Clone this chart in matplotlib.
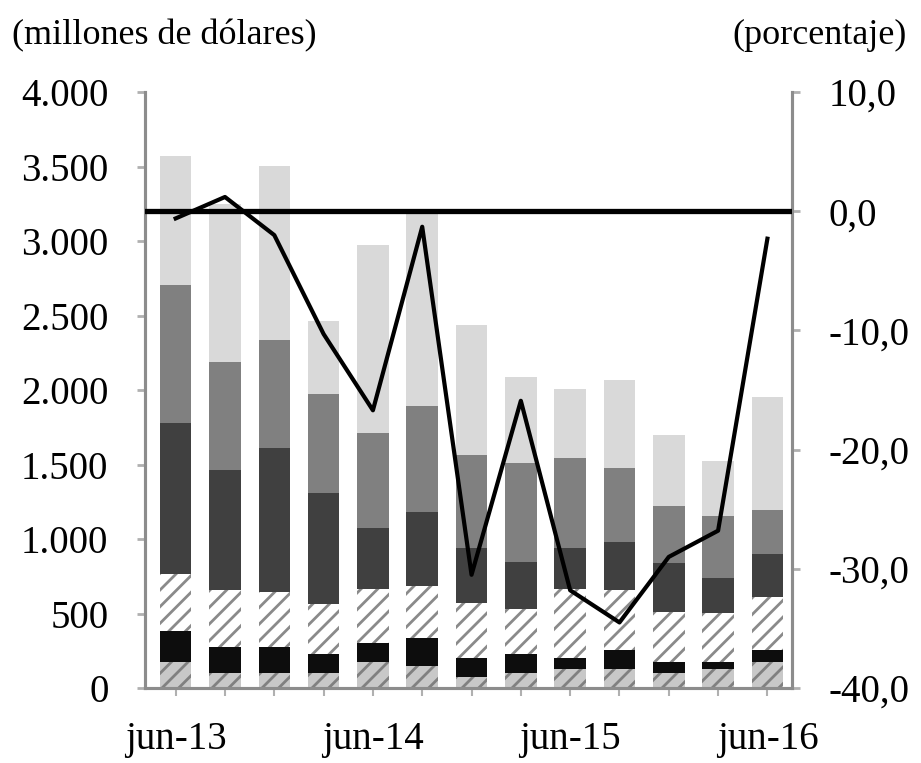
import numpy as np
import matplotlib
matplotlib.use("Agg")
import matplotlib.pyplot as plt

plt.rcParams['font.family'] = ['Liberation Serif', 'DejaVu Serif']
plt.rcParams['hatch.linewidth'] = 2.0

periods = ["jun-13", "sep-13", "dic-13", "mar-14", "jun-14", "sep-14", "dic-14",
           "mar-15", "jun-15", "sep-15", "dic-15", "mar-16", "jun-16"]
tick_labels = ["jun-13", "", "", "", "jun-14", "", "", "", "jun-15", "", "", "", "jun-16"]

# stacked components (millones de dólares), bottom to top
serie_1 = [174, 100, 100, 100, 174, 148, 74, 100, 128, 128, 100, 128, 174]   # hatched gray
serie_2 = [209, 175, 175, 128, 128, 188, 127, 128, 73, 127, 74, 46, 81]      # black
serie_3 = [382, 383, 369, 336, 362, 348, 369, 302, 464, 403, 336, 329, 356]  # hatched white
serie_4 = [1013, 805, 967, 745, 410, 497, 370, 316, 275, 322, 329, 235, 288] # dark gray
serie_5 = [927, 725, 725, 664, 637, 712, 624, 664, 604, 497, 382, 416, 296]  # medium gray
serie_6 = [865, 1062, 1167, 490, 1262, 1307, 872, 577, 463, 590, 477, 369, 758]  # light gray

# variation (porcentaje), right axis
variacion = [-0.6, 1.2, -2.0, -10.3, -16.7, -1.3, -30.5, -15.9, -31.8, -34.5, -29.0, -26.8, -2.3]

left_ticks = [0, 500, 1000, 1500, 2000, 2500, 3000, 3500, 4000]
left_labels = ["0", "500", "1.000", "1.500", "2.000", "2.500", "3.000", "3.500", "4.000"]
right_ticks = [-40, -30, -20, -10, 0, 10]
right_labels = ["-40,0", "-30,0", "-20,0", "-10,0", "0,0", "10,0"]

fig = plt.figure(figsize=(9.21, 7.63), dpi=100)
ax = fig.add_axes([0.157, 0.0983, 0.703, 0.781])
x = np.arange(len(periods))
w = 0.64

series = [serie_1, serie_2, serie_3, serie_4, serie_5, serie_6]
styles = [
    dict(color='#c8c8c8', edgecolor='#808080', hatch='//', linewidth=0),
    dict(color='#0d0d0d', linewidth=0),
    dict(color='#ffffff', edgecolor='#8a8a8a', hatch='//', linewidth=0),
    dict(color='#404040', linewidth=0),
    dict(color='#808080', linewidth=0),
    dict(color='#d9d9d9', linewidth=0),
]
bottom = np.zeros(len(periods))
for s, st in zip(series, styles):
    ax.bar(x, s, w, bottom=bottom, zorder=2, **st)
    bottom += np.array(s)

ax.set_xlim(-0.63, 12.5)
ax.set_ylim(0, 4000)
ax.set_yticks(left_ticks)
ax.set_yticklabels(left_labels)
ax.set_xticks(x)
ax.set_xticklabels(tick_labels)

gray = '#8c8c8c'
ax.spines['top'].set_visible(False)
for side in ['left', 'bottom', 'right']:
    ax.spines[side].set_color(gray)
    ax.spines[side].set_linewidth(2.2)
ax.tick_params(axis='y', length=6, width=2, color='#b0b0b0', pad=20, labelsize=28)
ax.tick_params(axis='x', length=6, width=1.5, color='#b0b0b0', pad=18, labelsize=28)

ax2 = ax.twinx()
ax2.set_ylim(-40, 10)
ax2.set_yticks(right_ticks)
ax2.set_yticklabels(right_labels)
ax2.spines['top'].set_visible(False)
for side in ['left', 'bottom', 'right']:
    ax2.spines[side].set_color(gray)
    ax2.spines[side].set_linewidth(2.2)
ax2.tick_params(axis='y', length=6, width=2, color='#b0b0b0', pad=20, labelsize=28)
ax2.axhline(0, color='black', linewidth=3.8, zorder=3)
ax2.plot(x, variacion, color='black', linewidth=3.0, zorder=4, solid_joinstyle='round')

fig.text(0.013, 0.975, "(millones de dólares)", fontsize=26, ha='left', va='top')
fig.text(0.985, 0.975, "(porcentaje)", fontsize=26, ha='right', va='top')

fig.savefig("out.png", dpi=100)
